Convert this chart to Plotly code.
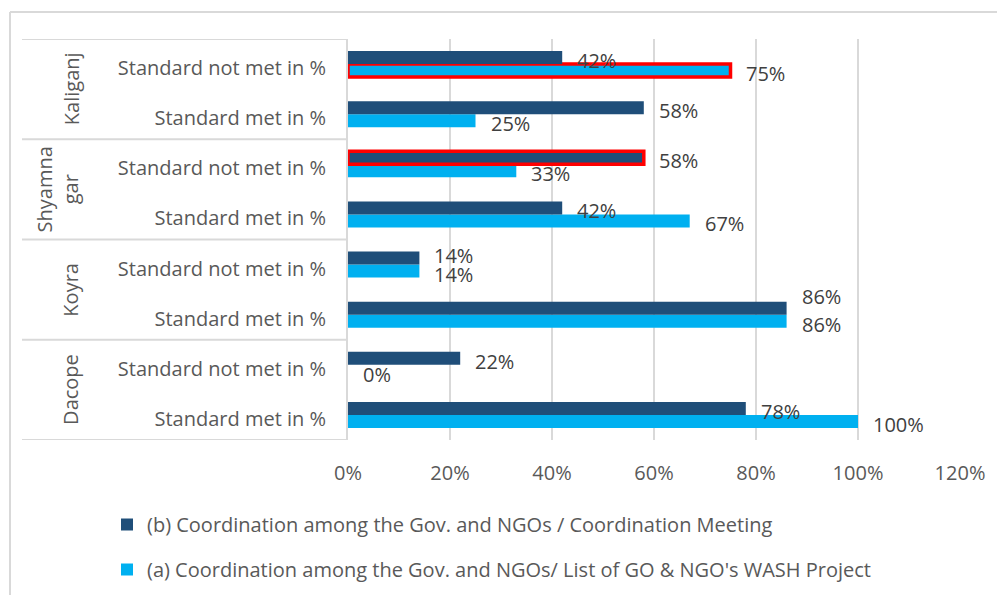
import plotly.graph_objects as go

# Categories listed from the bottom of the chart upward (Excel order)
districts = ["Dacope", "Koyra", "Shyamna<br>gar", "Kaliganj"]
categories = ["Standard met in %", "Standard not met in %"] * 4

# (a) Coordination among the Gov. and NGOs/ List of GO & NGO's WASH Project
series_a = [1.00, 0.00, 0.86, 0.14, 0.67, 0.33, 0.25, 0.75]
# (b) Coordination among the Gov. and NGOs / Coordination Meeting
series_b = [0.78, 0.22, 0.86, 0.14, 0.42, 0.58, 0.58, 0.42]

name_a = "(a) Coordination among the Gov. and NGOs/ List of GO & NGO's WASH Project"
name_b = "(b) Coordination among the Gov. and NGOs / Coordination Meeting"

x_ticks = [0, 0.2, 0.4, 0.6, 0.8, 1.0, 1.2]
x_ticktext = ["0%", "20%", "40%", "60%", "80%", "100%", "120%"]

# bars outlined in red in the original
highlight_a = [7]
highlight_b = [5]

# page body has an 8px margin, so the figure sits 8px in from the window corner
W, H = 997, 587
L, R, T, B = 340, 45, 31, 155
FONT = "Open Sans"
AXIS_GREY = "#595959"
LABEL_GREY = "#404040"
LINE_GREY = "#D9D9D9"


# helpers: window pixel -> paper coordinate (plot area spans 348..960, 39..440)
def px_x(px):
    return (px - 348) / 612


def px_y(py):
    return (440 - py) / 401


pos = list(range(len(categories)))


def outline(n, marked):
    colors = ["red" if i in marked else "rgba(0,0,0,0)" for i in range(n)]
    widths = [3.5 if i in marked else 0 for i in range(n)]
    return dict(color=colors, width=widths)


fig = go.Figure()
fig.add_trace(
    go.Bar(
        x=series_a,
        y=pos,
        orientation="h",
        name=name_a,
        legendgroup="a",
        legendrank=2,
        marker=dict(color="#00B0F0", line=outline(len(pos), highlight_a)),
        hoverinfo="skip",
    )
)
fig.add_trace(
    go.Bar(
        x=series_b,
        y=pos,
        orientation="h",
        name=name_b,
        legendgroup="b",
        legendrank=1,
        marker=dict(color="#1F4E79", line=outline(len(pos), highlight_b)),
        hoverinfo="skip",
    )
)

# value labels, nudged like the hand-placed Excel labels
label_nudge = {("b", 2): 12, ("b", 3): 3}
bar_w = (1 - 0.48) / 2
annotations = []
for key, vals, off in (("a", series_a, -bar_w / 2), ("b", series_b, bar_w / 2)):
    for i, v in enumerate(vals):
        annotations.append(
            dict(
                x=v,
                y=i + off,
                xref="x",
                yref="y",
                text=f"{v * 100:.0f}%",
                showarrow=False,
                xanchor="left",
                xshift=13,
                yshift=label_nudge.get((key, i), -3),
                font=dict(family=FONT, size=20, color=LABEL_GREY),
            )
        )

# district group labels, rotated
group_x = {"Shyamna<br>gar": 57}
for g, name in enumerate(districts):
    annotations.append(
        dict(
            x=px_x(group_x.get(name, 71)),
            y=2 * g + 0.5,
            xref="paper",
            yref="y",
            xanchor="center",
            yanchor="middle",
            text=name,
            textangle=-90,
            showarrow=False,
            font=dict(family=FONT, size=20, color=AXIS_GREY),
        )
    )

shapes = []
for g in range(len(districts) + 1):
    shapes.append(
        dict(
            type="line",
            xref="paper",
            yref="y",
            x0=px_x(22),
            x1=0,
            y0=2 * g - 0.5,
            y1=2 * g - 0.5,
            line=dict(color=LINE_GREY, width=2),
        )
    )
# chart area border: only the top and left edges are in view
shapes.append(
    dict(type="line", xref="paper", yref="paper",
         x0=px_x(10), x1=px_x(1100), y0=px_y(12), y1=px_y(12),
         line=dict(color=LINE_GREY, width=2), layer="below")
)
shapes.append(
    dict(type="line", xref="paper", yref="paper",
         x0=px_x(10), x1=px_x(10), y0=px_y(12), y1=px_y(700),
         line=dict(color=LINE_GREY, width=2), layer="below")
)

fig.update_layout(
    width=W,
    height=H,
    margin=dict(l=L, r=R, t=T, b=B, autoexpand=False),
    paper_bgcolor="white",
    plot_bgcolor="white",
    barmode="group",
    bargap=0.48,
    bargroupgap=0,
    font=dict(family=FONT, size=20, color=AXIS_GREY),
    annotations=annotations,
    shapes=shapes,
    showlegend=True,
    legend=dict(
        orientation="v",
        traceorder="grouped",
        tracegroupgap=16,
        x=px_x(107),
        y=px_y(505),
        xanchor="left",
        yanchor="top",
        font=dict(family=FONT, size=20, color=AXIS_GREY),
        bgcolor="rgba(0,0,0,0)",
    ),
)

fig.update_xaxes(
    range=[0, 1.2],
    tickvals=x_ticks,
    ticktext=x_ticktext,
    showgrid=True,
    gridcolor=LINE_GREY,
    gridwidth=2,
    zeroline=False,
    showline=False,
    ticklabelstandoff=19,
    tickfont=dict(family=FONT, size=20, color=AXIS_GREY),
)
fig.update_yaxes(
    range=[-0.5, 7.5],
    tickvals=pos,
    ticktext=categories,
    showgrid=False,
    zeroline=False,
    showline=True,
    linecolor=LINE_GREY,
    linewidth=2,
    ticklabelstandoff=16,
    ticklabelshift=4,
    tickfont=dict(family=FONT, size=20, color=AXIS_GREY),
)

fig.write_html("out.html")
